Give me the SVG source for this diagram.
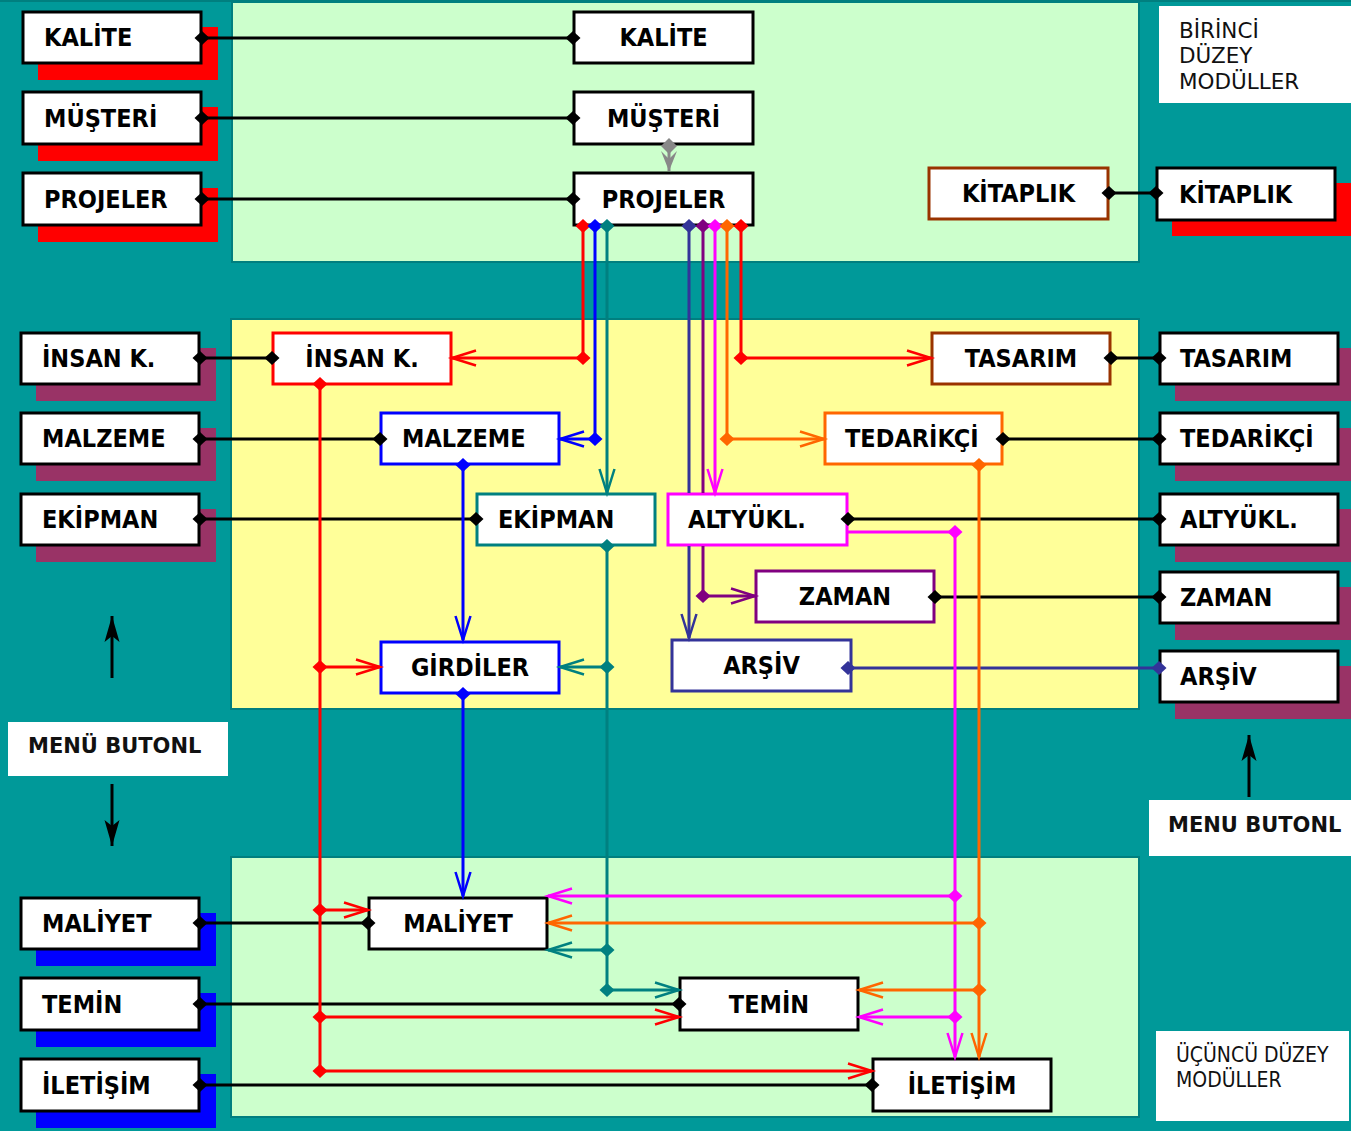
<svg xmlns="http://www.w3.org/2000/svg" width="1351" height="1131" viewBox="0 0 1351 1131">
<style>
.t{font-family:"DejaVu Sans Condensed","DejaVu Sans",sans-serif;font-weight:bold;font-size:25px;fill:#000}
.c{text-anchor:middle}
.lbl{font-family:"DejaVu Sans",sans-serif;font-size:21.5px;fill:#111}
.lbl2{font-family:"DejaVu Sans Condensed","DejaVu Sans",sans-serif;font-size:21px;fill:#111}
.mb{font-family:"DejaVu Sans",sans-serif;font-weight:bold;font-size:21px;fill:#111}
.box{fill:#fff;stroke:#000;stroke-width:3}
.panel{stroke:#007f7f;stroke-width:2}
.cn{fill:none;stroke-width:3}
</style>
<defs>
<marker id="dk" viewBox="-30 -10 40 20" markerWidth="40" markerHeight="20" refX="0" refY="0" orient="0" markerUnits="userSpaceOnUse"><path d="M-7.5,0L0,-7L7.5,0L0,7Z" fill="#000"/></marker>
<marker id="dr" viewBox="-30 -10 40 20" markerWidth="40" markerHeight="20" refX="0" refY="0" orient="0" markerUnits="userSpaceOnUse"><path d="M-7.5,0L0,-7L7.5,0L0,7Z" fill="#f00"/></marker>
<marker id="db" viewBox="-30 -10 40 20" markerWidth="40" markerHeight="20" refX="0" refY="0" orient="0" markerUnits="userSpaceOnUse"><path d="M-7.5,0L0,-7L7.5,0L0,7Z" fill="#00f"/></marker>
<marker id="dt" viewBox="-30 -10 40 20" markerWidth="40" markerHeight="20" refX="0" refY="0" orient="0" markerUnits="userSpaceOnUse"><path d="M-7.5,0L0,-7L7.5,0L0,7Z" fill="#008080"/></marker>
<marker id="dn" viewBox="-30 -10 40 20" markerWidth="40" markerHeight="20" refX="0" refY="0" orient="0" markerUnits="userSpaceOnUse"><path d="M-7.5,0L0,-7L7.5,0L0,7Z" fill="#333399"/></marker>
<marker id="dp" viewBox="-30 -10 40 20" markerWidth="40" markerHeight="20" refX="0" refY="0" orient="0" markerUnits="userSpaceOnUse"><path d="M-7.5,0L0,-7L7.5,0L0,7Z" fill="#800080"/></marker>
<marker id="dm" viewBox="-30 -10 40 20" markerWidth="40" markerHeight="20" refX="0" refY="0" orient="0" markerUnits="userSpaceOnUse"><path d="M-7.5,0L0,-7L7.5,0L0,7Z" fill="#f0f"/></marker>
<marker id="do" viewBox="-30 -10 40 20" markerWidth="40" markerHeight="20" refX="0" refY="0" orient="0" markerUnits="userSpaceOnUse"><path d="M-7.5,0L0,-7L7.5,0L0,7Z" fill="#f60"/></marker>
<marker id="dg" viewBox="-30 -10 40 20" markerWidth="40" markerHeight="20" refX="0" refY="0" orient="0" markerUnits="userSpaceOnUse"><path d="M-8,0L0,-8L8,0L0,8Z" fill="#888"/></marker>
<marker id="ar" viewBox="-30 -10 40 20" markerWidth="40" markerHeight="20" refX="0" refY="0" orient="auto" markerUnits="userSpaceOnUse"><path d="M-24,-7.5L0,0L-24,7.5" fill="none" stroke="#f00" stroke-width="2.5"/></marker>
<marker id="ab" viewBox="-30 -10 40 20" markerWidth="40" markerHeight="20" refX="0" refY="0" orient="auto" markerUnits="userSpaceOnUse"><path d="M-24,-7.5L0,0L-24,7.5" fill="none" stroke="#00f" stroke-width="2.5"/></marker>
<marker id="at" viewBox="-30 -10 40 20" markerWidth="40" markerHeight="20" refX="0" refY="0" orient="auto" markerUnits="userSpaceOnUse"><path d="M-24,-7.5L0,0L-24,7.5" fill="none" stroke="#008080" stroke-width="2.5"/></marker>
<marker id="an" viewBox="-30 -10 40 20" markerWidth="40" markerHeight="20" refX="0" refY="0" orient="auto" markerUnits="userSpaceOnUse"><path d="M-24,-7.5L0,0L-24,7.5" fill="none" stroke="#333399" stroke-width="2.5"/></marker>
<marker id="ap" viewBox="-30 -10 40 20" markerWidth="40" markerHeight="20" refX="0" refY="0" orient="auto" markerUnits="userSpaceOnUse"><path d="M-24,-7.5L0,0L-24,7.5" fill="none" stroke="#800080" stroke-width="2.5"/></marker>
<marker id="am" viewBox="-30 -10 40 20" markerWidth="40" markerHeight="20" refX="0" refY="0" orient="auto" markerUnits="userSpaceOnUse"><path d="M-24,-7.5L0,0L-24,7.5" fill="none" stroke="#f0f" stroke-width="2.5"/></marker>
<marker id="ao" viewBox="-30 -10 40 20" markerWidth="40" markerHeight="20" refX="0" refY="0" orient="auto" markerUnits="userSpaceOnUse"><path d="M-24,-7.5L0,0L-24,7.5" fill="none" stroke="#f60" stroke-width="2.5"/></marker>
<marker id="ag" viewBox="-30 -10 40 20" markerWidth="40" markerHeight="20" refX="0" refY="0" orient="auto" markerUnits="userSpaceOnUse"><path d="M-20,-8L0,0L-20,8L-12,0Z" fill="#888"/></marker>
<marker id="ak" viewBox="-30 -10 40 20" markerWidth="40" markerHeight="20" refX="0" refY="0" orient="auto" markerUnits="userSpaceOnUse"><path d="M-26,-7.5L0,0L-26,7.5L-20,0Z" fill="#000"/></marker>
</defs>
<rect width="1351" height="1131" fill="#009999"/>
<rect x="0" y="0" width="1351" height="2" fill="#007f7f"/>
<g id="panels">
<rect class="panel" x="232" y="2" width="907" height="260" fill="#ccffcc"/>
<rect class="panel" x="231" y="319" width="908" height="390" fill="#ffff99"/>
<rect class="panel" x="231" y="857" width="908" height="260" fill="#ccffcc"/>
</g>
<g id="labels">
<rect x="1159" y="6" width="192" height="97" fill="#fff"/>
<text class="lbl" x="1179" y="38">BİRİNCİ</text>
<text class="lbl" x="1179" y="63">DÜZEY</text>
<text class="lbl" x="1179" y="89">MODÜLLER</text>
<rect x="1156" y="1031" width="193" height="90" fill="#fff"/>
<text class="lbl2" x="1176" y="1062">ÜÇÜNCÜ DÜZEY</text>
<text class="lbl2" x="1176" y="1087">MODÜLLER</text>
<rect x="8" y="722" width="220" height="54" fill="#fff"/>
<text class="mb" x="28" y="753">MENÜ BUTONL</text>
<rect x="1149" y="800" width="202" height="56" fill="#fff"/>
<text class="mb" x="1168" y="832">MENU BUTONL</text>
</g>
<g id="menu-arrows">
<path d="M112,678V616" stroke="#000" stroke-width="3" marker-end="url(#ak)"/>
<path d="M112,784V846" stroke="#000" stroke-width="3" marker-end="url(#ak)"/>
<path d="M1249,797V735" stroke="#000" stroke-width="3" marker-end="url(#ak)"/>
</g>
<g id="L-KALITE"><rect x="38" y="27" width="180" height="53" fill="#f00"/><rect class="box" x="23" y="12" width="178" height="51"/><text class="t" x="44" y="46">KALİTE</text></g>
<g id="L-MUSTERI"><rect x="38" y="107" width="180" height="54" fill="#f00"/><rect class="box" x="23" y="92" width="178" height="52"/><text class="t" x="44" y="127">MÜŞTERİ</text></g>
<g id="L-PROJELER"><rect x="38" y="188" width="180" height="54" fill="#f00"/><rect class="box" x="23" y="173" width="178" height="52"/><text class="t" x="44" y="208">PROJELER</text></g>
<g id="L-INSAN"><rect x="36" y="348" width="180" height="53" fill="#993366"/><rect class="box" x="21" y="333" width="178" height="51"/><text class="t" x="42" y="367">İNSAN K.</text></g>
<g id="L-MALZEME"><rect x="36" y="428" width="180" height="53" fill="#993366"/><rect class="box" x="21" y="413" width="178" height="51"/><text class="t" x="42" y="447">MALZEME</text></g>
<g id="L-EKIPMAN"><rect x="36" y="509" width="180" height="53" fill="#993366"/><rect class="box" x="21" y="494" width="178" height="51"/><text class="t" x="42" y="528">EKİPMAN</text></g>
<g id="L-MALIYET"><rect x="36" y="913" width="180" height="53" fill="#00f"/><rect class="box" x="21" y="898" width="178" height="51"/><text class="t" x="42" y="932">MALİYET</text></g>
<g id="L-TEMIN"><rect x="36" y="993" width="180" height="54" fill="#00f"/><rect class="box" x="21" y="978" width="178" height="52"/><text class="t" x="42" y="1013">TEMİN</text></g>
<g id="L-ILETISIM"><rect x="36" y="1074" width="180" height="54" fill="#00f"/><rect class="box" x="21" y="1059" width="178" height="52"/><text class="t" x="42" y="1094">İLETİŞİM</text></g>
<g id="R-KITAPLIK"><rect x="1172" y="183" width="180" height="53" fill="#f00"/><rect class="box" x="1157" y="168" width="178" height="52"/><text class="t" x="1179" y="203">KİTAPLIK</text></g>
<g id="R-TASARIM"><rect x="1175" y="348" width="180" height="53" fill="#993366"/><rect class="box" x="1160" y="333" width="178" height="51"/><text class="t" x="1180" y="367">TASARIM</text></g>
<g id="R-TEDARIKCI"><rect x="1175" y="428" width="180" height="53" fill="#993366"/><rect class="box" x="1160" y="413" width="178" height="51"/><text class="t" x="1180" y="447">TEDARİKÇİ</text></g>
<g id="R-ALTYUKL"><rect x="1175" y="509" width="180" height="53" fill="#993366"/><rect class="box" x="1160" y="494" width="178" height="51"/><text class="t" x="1180" y="528">ALTYÜKL.</text></g>
<g id="R-ZAMAN"><rect x="1175" y="587" width="180" height="53" fill="#993366"/><rect class="box" x="1160" y="572" width="178" height="51"/><text class="t" x="1180" y="606">ZAMAN</text></g>
<g id="R-ARSIV"><rect x="1175" y="666" width="180" height="53" fill="#993366"/><rect class="box" x="1160" y="651" width="178" height="51"/><text class="t" x="1180" y="685">ARŞİV</text></g>
<g id="C-KALITE"><rect class="box" x="574" y="12" width="179" height="51"/><text class="t c" x="663.5" y="46">KALİTE</text></g>
<g id="C-MUSTERI"><rect class="box" x="574" y="92" width="179" height="52"/><text class="t c" x="663.5" y="127">MÜŞTERİ</text></g>
<g id="C-PROJELER"><rect class="box" x="574" y="173" width="179" height="52"/><text class="t c" x="663.5" y="208">PROJELER</text></g>
<g id="C-KITAPLIK"><rect class="box" x="929" y="168" width="179" height="51" style="stroke:#993300"/><text class="t c" x="1018.5" y="202">KİTAPLIK</text></g>
<g id="C-INSAN"><rect class="box" x="273" y="333" width="178" height="51" style="stroke:#f00"/><text class="t c" x="362" y="367">İNSAN K.</text></g>
<g id="C-MALZEME"><rect class="box" x="381" y="413" width="178" height="51" style="stroke:#00f"/><text class="t" x="402" y="447">MALZEME</text></g>
<g id="C-EKIPMAN"><rect class="box" x="477" y="494" width="178" height="51" style="stroke:#008080"/><text class="t" x="498" y="528">EKİPMAN</text></g>
<g id="C-GIRDILER"><rect class="box" x="381" y="642" width="178" height="51" style="stroke:#00f"/><text class="t c" x="470" y="676">GİRDİLER</text></g>
<g id="C-TASARIM"><rect class="box" x="932" y="333" width="178" height="51" style="stroke:#993300"/><text class="t c" x="1021" y="367">TASARIM</text></g>
<g id="C-TEDARIKCI"><rect class="box" x="825" y="413" width="177" height="51" style="stroke:#f60"/><text class="t" x="845" y="447">TEDARİKÇİ</text></g>
<g id="C-ALTYUKL"><rect class="box" x="668" y="494" width="179" height="51" style="stroke:#f0f"/><text class="t" x="688" y="528">ALTYÜKL.</text></g>
<g id="C-ZAMAN"><rect class="box" x="756" y="571" width="178" height="51" style="stroke:#800080"/><text class="t c" x="845" y="605">ZAMAN</text></g>
<g id="C-ARSIV"><rect class="box" x="672" y="640" width="179" height="51" style="stroke:#333399"/><text class="t c" x="761.5" y="674">ARŞİV</text></g>
<g id="C-MALIYET"><rect class="box" x="369" y="898" width="178" height="51" style="stroke:#000"/><text class="t c" x="458" y="932">MALİYET</text></g>
<g id="C-TEMIN"><rect class="box" x="680" y="978" width="178" height="52" style="stroke:#000"/><text class="t c" x="769" y="1013">TEMİN</text></g>
<g id="C-ILETISIM"><rect class="box" x="873" y="1059" width="178" height="52" style="stroke:#000"/><text class="t c" x="962" y="1094">İLETİŞİM</text></g>
<g id="connectors">
<g stroke="#000" class="cn" marker-start="url(#dk)" marker-end="url(#dk)">
<path class="cn" d="M202,38H573"/>
<path class="cn" d="M202,118H573"/>
<path class="cn" d="M202,199H573"/>
<path class="cn" d="M1109,193H1156"/>
<path class="cn" d="M200,358H272"/>
<path class="cn" d="M200,439H380"/>
<path class="cn" d="M200,519H476"/>
<path class="cn" d="M1111,358H1159"/>
<path class="cn" d="M1003,439H1159"/>
<path class="cn" d="M848,519H1159"/>
<path class="cn" d="M935,597H1159"/>
<path class="cn" d="M200,923H368"/>
<path class="cn" d="M200,1004H679"/>
<path class="cn" d="M200,1085H872"/>
</g>
<path class="cn" d="M848,668H1159" stroke="#333399" marker-start="url(#dn)" marker-end="url(#dn)"/>
<path class="cn" d="M669,146V171" stroke="#888" marker-start="url(#dg)" marker-end="url(#ag)"/>
<path class="cn" d="M583,226V358H452" stroke="#f00" marker-start="url(#dr)" marker-mid="url(#dr)" marker-end="url(#ar)"/>
<path class="cn" d="M741,226V358H931" stroke="#f00" marker-start="url(#dr)" marker-mid="url(#dr)" marker-end="url(#ar)"/>
<path class="cn" d="M595,226V439H560" stroke="#00f" marker-start="url(#db)" marker-mid="url(#db)" marker-end="url(#ab)"/>
<path class="cn" d="M607,226V493" stroke="#008080" marker-start="url(#dt)" marker-end="url(#at)"/>
<path class="cn" d="M689,226V493M689,546V638" stroke="#333399" marker-start="url(#dn)" marker-end="url(#an)"/>
<path class="cn" d="M703,226V493" stroke="#800080" marker-start="url(#dp)"/>
<path class="cn" d="M703,546V596" stroke="#800080"/>
<path class="cn" d="M703,596H755" stroke="#800080" marker-start="url(#dp)" marker-end="url(#ap)"/>
<path class="cn" d="M715,226V493" stroke="#f0f" marker-start="url(#dm)" marker-end="url(#am)"/>
<path class="cn" d="M727,226V439H824" stroke="#f60" marker-start="url(#do)" marker-mid="url(#do)" marker-end="url(#ao)"/>
<path class="cn" d="M463,465V640" stroke="#00f" marker-start="url(#db)" marker-end="url(#ab)"/>
<path class="cn" d="M463,694V896" stroke="#00f" marker-start="url(#db)" marker-end="url(#ab)"/>
<path class="cn" d="M320,384V1071" stroke="#f00" marker-start="url(#dr)"/>
<g stroke="#f00" marker-start="url(#dr)" marker-end="url(#ar)">
<path class="cn" d="M320,667H380"/>
<path class="cn" d="M320,910H368"/>
<path class="cn" d="M320,1017H679"/>
<path class="cn" d="M320,1071H872"/>
</g>
<path class="cn" d="M607,546V990" stroke="#008080" marker-start="url(#dt)"/>
<g stroke="#008080" marker-start="url(#dt)" marker-end="url(#at)">
<path class="cn" d="M607,667H560"/>
<path class="cn" d="M607,950H548"/>
<path class="cn" d="M607,990H679"/>
</g>
<path class="cn" d="M848,532H955V1057" stroke="#f0f" marker-mid="url(#dm)" marker-end="url(#am)"/>
<g stroke="#f0f" marker-start="url(#dm)" marker-end="url(#am)">
<path class="cn" d="M955,896H548"/>
<path class="cn" d="M955,1017H859"/>
</g>
<path class="cn" d="M979,465V1057" stroke="#f60" marker-start="url(#do)" marker-end="url(#ao)"/>
<g stroke="#f60" marker-start="url(#do)" marker-end="url(#ao)">
<path class="cn" d="M979,923H548"/>
<path class="cn" d="M979,990H859"/>
</g>
</g>
</svg>
